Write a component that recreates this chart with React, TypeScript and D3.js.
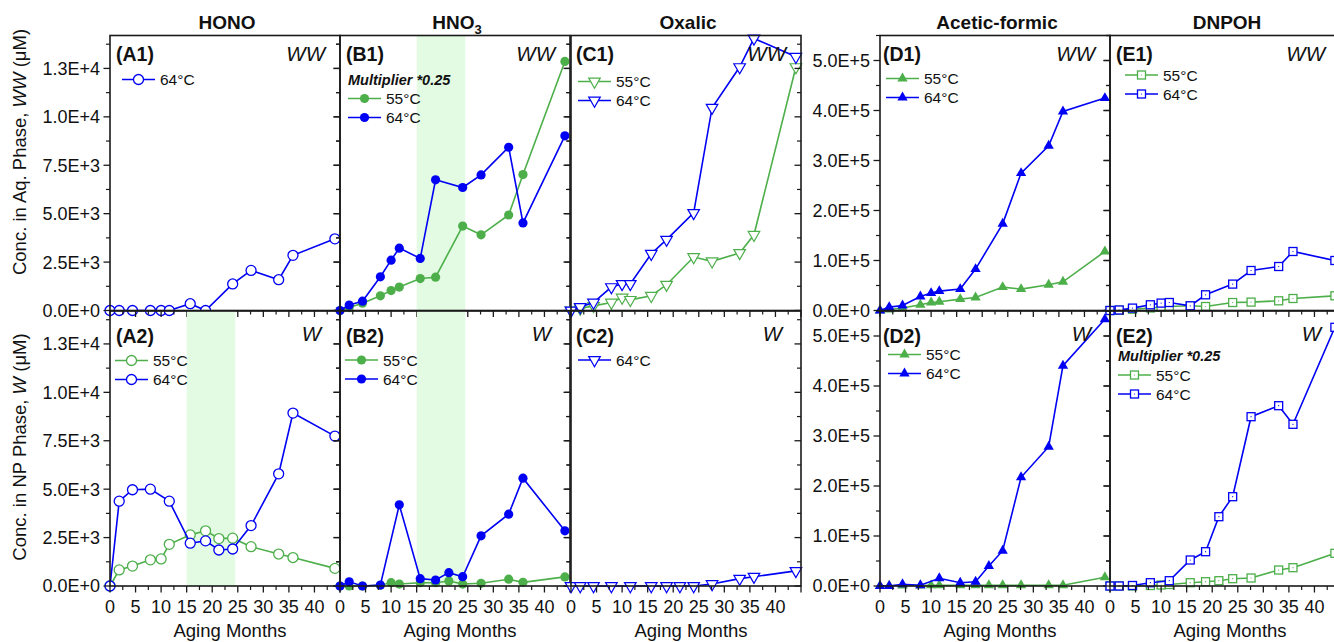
import React from "react";
import * as d3 from "d3";

// Sampling times (aging months); null values mean no sample at that time
const MONTHS = [0, 1.8, 4.4, 7.9, 10, 11.6, 15.7, 18.7, 21.3, 24, 27.6, 33, 35.8, 44];

const X_TICKS = [0, 5, 10, 15, 20, 25, 30, 35, 40];
const CONC_TICKS = [0, 2500, 5000, 7500, 10000, 12500];
const CONC_TICK_LABELS = ["0.0E+0", "2.5E+3", "5.0E+3", "7.5E+3", "1.0E+4", "1.3E+4"];
const ACID_TICKS = [0, 100000, 200000, 300000, 400000, 500000];
const ACID_TICK_LABELS = ["0.0E+0", "1.0E+5", "2.0E+5", "3.0E+5", "4.0E+5", "5.0E+5"];

const SPECIES = ["HONO", "HNO3", "Oxalic", "Acetic-formic", "DNPOH"];

// HONO (µM)
const honoWW64 = [0, 0, 0, 0, 0, 0, 350, 0, null, 1370, 2070, 1590, 2850, 3700];
const honoW55 = [0, 830, 1030, 1350, 1400, 2150, 2640, 2850, 2450, 2470, 2030, 1650, 1470, 910];
const honoW64 = [0, 4380, 4970, 5000, null, 4380, 2210, 2330, 1860, 1910, 3120, 5790, 8930, 7740];

// HNO3 (µM), aqueous phase shown with multiplier 0.25
const hno3WW55 = [0, 150, 380, 760, 1030, 1210, 1650, 1720, null, 4360, 3910, 4930, 7020, 12860];
const hno3WW64 = [0, 280, 480, 1740, 2600, 3220, 2690, 6750, null, 6350, 7000, 8430, 4520, 9020];
const hno3W55 = [0, 0, 0, 40, 170, 100, 170, 170, 260, 100, 140, 350, 190, 470];
const hno3W64 = [0, 220, 0, 50, null, 4190, 380, 310, 690, 480, 2590, 3710, 5570, 2850];

// Oxalic (µM)
const oxalicWW55 = [0, 100, 240, 410, 670, 550, 760, 1330, null, 2760, 2540, 2970, 3910, 12570];
const oxalicWW64 = [0, 180, 410, 1210, 1370, 1370, 2930, 3660, null, 5040, 10470, 12570, 14050, 13100];
const oxalicW64 = [0, 0, 0, 0, null, 0, 0, 0, 0, 0, 100, 380, 480, 780];

// Acetic-formic (µM)
const aceticWW55 = [0, 2000, 5000, 11400, 16000, 17400, 22800, 26000, null, 46800, 42800, 51400, 57400, 118000];
const aceticWW64 = [0, 6800, 10000, 28000, 34800, 38800, 42800, 82800, null, 173400, 274800, 329400, 398000, 424800];
const aceticW55 = [0, 500, 1000, 1000, 1500, 1500, 1500, 1500, 1500, 1500, 1500, 1500, 1500, 17400];
const aceticW64 = [0, 0, 3400, 1400, null, 15400, 6600, 8600, 40000, 70600, 217400, 278600, 440600, 533400];

// DNPOH (µM), non-polar phase shown with multiplier 0.25
const dnpohWW55 = [0, 500, 2500, 5000, 7000, 8000, 9400, 8000, null, 16000, 16800, 19400, 24000, 29400];
const dnpohWW64 = [0, 1000, 4800, 11400, 14800, 16000, 9400, 31400, null, 52800, 80000, 88000, 118000, 100000];
const dnpohW55 = [0, 0, 0, 1000, 2000, 3000, 6600, 8600, 10600, 14600, 16000, 32000, 36600, 65400];
const dnpohW64 = [0, 0, 1000, 6600, null, 10600, 52000, 68600, 138600, 178600, 338600, 360600, 323400, 517400];

const SHADE = [15, 24.5];

const BLUE = "#0000f5";
const GREEN = "#4daf4a";
const AXIS = "#1a1a1a";
const FONT = "'Liberation Sans', Arial, sans-serif";

const COL_LEFT = [110, 340, 571, 880, 1110];
const PANEL_W = 230;
const ROWS = [
  { top: 35.5, bottom: 310.5 },
  { top: 311, bottom: 586 },
];

type MarkerKind = "circleOpen" | "circleFilled" | "triDownOpen" | "triUpFilled" | "squareOpen";

interface Series {
  name: string;
  values: (number | null)[];
  color: string;
}

interface PanelDef {
  col: number;
  row: number;
  id: string;
  phase: string;
  acid: boolean;
  marker: MarkerKind;
  series: Series[];
  legend: { dx: number; dy: number };
  multiplier?: { dx: number; dy: number };
  shade?: boolean;
  idDx?: number;
}

const PANELS: PanelDef[] = [
  { col: 0, row: 0, id: "(A1)", phase: "WW", acid: false, marker: "circleOpen",
    series: [{ name: "64°C", values: honoWW64, color: BLUE }], legend: { dx: 12, dy: 44 } },
  { col: 1, row: 0, id: "(B1)", phase: "WW", acid: false, marker: "circleFilled",
    series: [{ name: "55°C", values: hno3WW55, color: GREEN }, { name: "64°C", values: hno3WW64, color: BLUE }],
    legend: { dx: 8, dy: 63 }, multiplier: { dx: 8, dy: 49 }, shade: true },
  { col: 2, row: 0, id: "(C1)", phase: "WW", acid: false, marker: "triDownOpen",
    series: [{ name: "55°C", values: oxalicWW55, color: GREEN }, { name: "64°C", values: oxalicWW64, color: BLUE }],
    legend: { dx: 7, dy: 46 }, idDx: 5 },
  { col: 3, row: 0, id: "(D1)", phase: "WW", acid: true, marker: "triUpFilled",
    series: [{ name: "55°C", values: aceticWW55, color: GREEN }, { name: "64°C", values: aceticWW64, color: BLUE }],
    legend: { dx: 6, dy: 43 }, idDx: 3 },
  { col: 4, row: 0, id: "(E1)", phase: "WW", acid: true, marker: "squareOpen",
    series: [{ name: "55°C", values: dnpohWW55, color: GREEN }, { name: "64°C", values: dnpohWW64, color: BLUE }],
    legend: { dx: 15, dy: 39.5 } },
  { col: 0, row: 1, id: "(A2)", phase: "W", acid: false, marker: "circleOpen",
    series: [{ name: "55°C", values: honoW55, color: GREEN }, { name: "64°C", values: honoW64, color: BLUE }],
    legend: { dx: 5, dy: 49.5 }, shade: true },
  { col: 1, row: 1, id: "(B2)", phase: "W", acid: false, marker: "circleFilled",
    series: [{ name: "55°C", values: hno3W55, color: GREEN }, { name: "64°C", values: hno3W64, color: BLUE }],
    legend: { dx: 5, dy: 49 }, shade: true },
  { col: 2, row: 1, id: "(C2)", phase: "W", acid: false, marker: "triDownOpen",
    series: [{ name: "64°C", values: oxalicW64, color: BLUE }], legend: { dx: 7, dy: 49 }, idDx: 5 },
  { col: 3, row: 1, id: "(D2)", phase: "W", acid: true, marker: "triUpFilled",
    series: [{ name: "55°C", values: aceticW55, color: GREEN }, { name: "64°C", values: aceticW64, color: BLUE }],
    legend: { dx: 8, dy: 43.5 }, idDx: 3 },
  { col: 4, row: 1, id: "(E2)", phase: "W", acid: true, marker: "squareOpen",
    series: [{ name: "55°C", values: dnpohW55, color: GREEN }, { name: "64°C", values: dnpohW64, color: BLUE }],
    legend: { dx: 8, dy: 64 }, multiplier: { dx: 8, dy: 49.5 } },
];

const triUp = d3.symbol(d3.symbolTriangle, 46)() as string;
const triDown = d3.symbol(d3.symbolTriangle, 58)() as string;

function Marker({ kind, x, y, color }: { kind: MarkerKind; x: number; y: number; color: string }) {
  switch (kind) {
    case "circleOpen":
      return <circle cx={x} cy={y} r={5} fill="#fff" stroke={color} strokeWidth={1.3} />;
    case "circleFilled":
      return <circle cx={x} cy={y} r={4.6} fill={color} stroke="none" />;
    case "triDownOpen":
      return (
        <path d={triDown} transform={`translate(${x},${y}) rotate(180)`} fill="#fff" stroke={color} strokeWidth={1.2} />
      );
    case "triUpFilled":
      return <path d={triUp} transform={`translate(${x},${y})`} fill={color} stroke="none" />;
    case "squareOpen":
      return (
        <g>
          <rect x={x - 4} y={y - 4} width={8} height={8} fill="#fff" stroke={color} strokeWidth={1.3} />
          <circle cx={x} cy={y} r={0.6} fill={color} />
        </g>
      );
  }
}

function Panel({ p }: { p: PanelDef }) {
  const left = COL_LEFT[p.col];
  const right = left + PANEL_W;
  const { top, bottom } = ROWS[p.row];
  const x = d3.scaleLinear().domain([0, 45]).range([left, right]);
  const y = d3
    .scaleLinear()
    .domain(p.acid ? [0, 550000] : [0, 14200])
    .range([bottom, top]);
  const majorY = p.acid ? ACID_TICKS : CONC_TICKS;
  const labelsY = p.acid ? ACID_TICK_LABELS : CONC_TICK_LABELS;
  const stepY = p.acid ? 50000 : 1250;
  const maxY = p.acid ? 550000 : 14200;
  const minorY = d3.range(stepY, maxY + 1, stepY * 2);
  const majorX = d3.range(0, 46, 5);
  const minorX = d3.range(2.5, 45, 5);
  const showYLabels = p.col === 0 || p.col === 3;
  const showXLabels = p.row === 1;
  const rightTicks = p.col !== 4;

  const line = d3
    .line<[number, number]>()
    .x((d) => x(d[0]))
    .y((d) => y(d[1]));

  const legendY0 = top + p.legend.dy;
  const legendX0 = left + p.legend.dx;

  return (
    <g>
      {p.shade && (
        <rect x={x(SHADE[0])} y={top} width={x(SHADE[1]) - x(SHADE[0])} height={bottom - top} fill="#e3fbe3" />
      )}

      {p.series.map((s) => {
        const pts: [number, number][] = [];
        s.values.forEach((v, i) => {
          if (v !== null) pts.push([MONTHS[i], v]);
        });
        return (
          <g key={s.name}>
            <path d={line(pts) as string} fill="none" stroke={s.color} strokeWidth={1.6} />
            {pts.map((d, i) => (
              <Marker key={i} kind={p.marker} x={x(d[0])} y={y(d[1])} color={s.color} />
            ))}
          </g>
        );
      })}

      {/* frame */}
      <rect x={left} y={top} width={PANEL_W} height={bottom - top} fill="none" stroke={AXIS} strokeWidth={1.6} />

      {/* left axis ticks (outward) and right ticks (inward) */}
      {majorY.map((v, i) => (
        <g key={"my" + v}>
          <line x1={left - 6.5} x2={left} y1={y(v)} y2={y(v)} stroke={AXIS} strokeWidth={1.3} />
          {rightTicks && <line x1={right - 6.5} x2={right} y1={y(v)} y2={y(v)} stroke={AXIS} strokeWidth={1.3} />}
          {showYLabels && (
            <text x={left - 10} y={y(v)} dy="0.36em" textAnchor="end" fontSize={18} fontFamily={FONT} fill="#111">
              {labelsY[i]}
            </text>
          )}
        </g>
      ))}
      {minorY.map((v) => (
        <g key={"ny" + v}>
          <line x1={left - 4} x2={left} y1={y(v)} y2={y(v)} stroke={AXIS} strokeWidth={1.2} />
          {rightTicks && <line x1={right - 4} x2={right} y1={y(v)} y2={y(v)} stroke={AXIS} strokeWidth={1.2} />}
        </g>
      ))}

      {/* bottom axis ticks (outward) */}
      {majorX.map((v) => (
        <line key={"mx" + v} x1={x(v)} x2={x(v)} y1={bottom} y2={bottom + 6.5} stroke={AXIS} strokeWidth={1.3} />
      ))}
      {minorX.map((v) => (
        <line key={"nx" + v} x1={x(v)} x2={x(v)} y1={bottom} y2={bottom + 4} stroke={AXIS} strokeWidth={1.2} />
      ))}
      {showXLabels &&
        X_TICKS.map((v) => (
          <text key={"lx" + v} x={x(v)} y={bottom + 27} textAnchor="middle" fontSize={18} fontFamily={FONT} fill="#111">
            {v}
          </text>
        ))}
      {showXLabels && (
        <text x={(left + right) / 2 + 5} y={637} textAnchor="middle" fontSize={18.5} fontFamily={FONT} fill="#111">
          Aging Months
        </text>
      )}

      {/* panel id and phase */}
      <text
        x={left + (p.idDx ?? 6)}
        y={p.row === 0 ? top + 25.5 : top + 31.5}
        fontSize={19.5}
        fontWeight="bold"
        fontFamily={FONT}
        fill="#111"
      >
        {p.id}
      </text>
      <text
        x={p.phase === "WW" ? right - 15 : right - 19}
        y={p.row === 0 ? top + 25.5 : top + 29.5}
        textAnchor="end"
        fontSize={20.5}
        fontStyle="italic"
        fontFamily={FONT}
        fill="#111"
      >
        {p.phase}
      </text>

      {p.multiplier && (
        <text
          x={left + p.multiplier.dx}
          y={top + p.multiplier.dy}
          fontSize={14.5}
          fontWeight="bold"
          fontStyle="italic"
          fontFamily={FONT}
          fill="#111"
        >
          Multiplier *0.25
        </text>
      )}

      {/* legend */}
      {p.series.map((s, i) => {
        const ly = legendY0 + i * 19;
        return (
          <g key={"lg" + s.name}>
            <line x1={legendX0} x2={legendX0 + 33} y1={ly} y2={ly} stroke={s.color} strokeWidth={1.6} />
            <Marker kind={p.marker} x={legendX0 + 16.5} y={ly} color={s.color} />
            <text x={legendX0 + 38} y={ly} dy="0.36em" fontSize={15.5} fontFamily={FONT} fill="#111">
              {s.name}
            </text>
          </g>
        );
      })}
    </g>
  );
}

export default function App() {
  return (
    <svg
      width={1334}
      height={642}
      viewBox="0 0 1334 642"
      style={{ position: "absolute", left: 0, top: 0, background: "#fff" }}
    >
      <rect x={0} y={0} width={1334} height={642} fill="#fff" />

      {/* column titles */}
      {SPECIES.map((s, i) => {
        const cx = COL_LEFT[i] + PANEL_W / 2 + 2;
        return (
          <text key={s} x={cx} y={29} textAnchor="middle" fontSize={19} fontWeight="bold" fontFamily={FONT} fill="#111">
            {s === "HNO3" ? (
              <>
                HNO
                <tspan dy={5} fontSize={13}>
                  3
                </tspan>
              </>
            ) : (
              s
            )}
          </text>
        );
      })}

      {PANELS.map((p) => (
        <Panel key={p.id} p={p} />
      ))}

      {/* y axis titles */}
      <text
        transform="translate(26,152) rotate(-90)"
        textAnchor="middle"
        fontSize={18.5}
        fontFamily={FONT}
        fill="#111"
      >
        Conc. in Aq. Phase, <tspan fontStyle="italic">WW</tspan> (μM)
      </text>
      <text
        transform="translate(26,447) rotate(-90)"
        textAnchor="middle"
        fontSize={18.5}
        fontFamily={FONT}
        fill="#111"
      >
        Conc. in NP Phase, <tspan fontStyle="italic">W</tspan> (μM)
      </text>
    </svg>
  );
}
